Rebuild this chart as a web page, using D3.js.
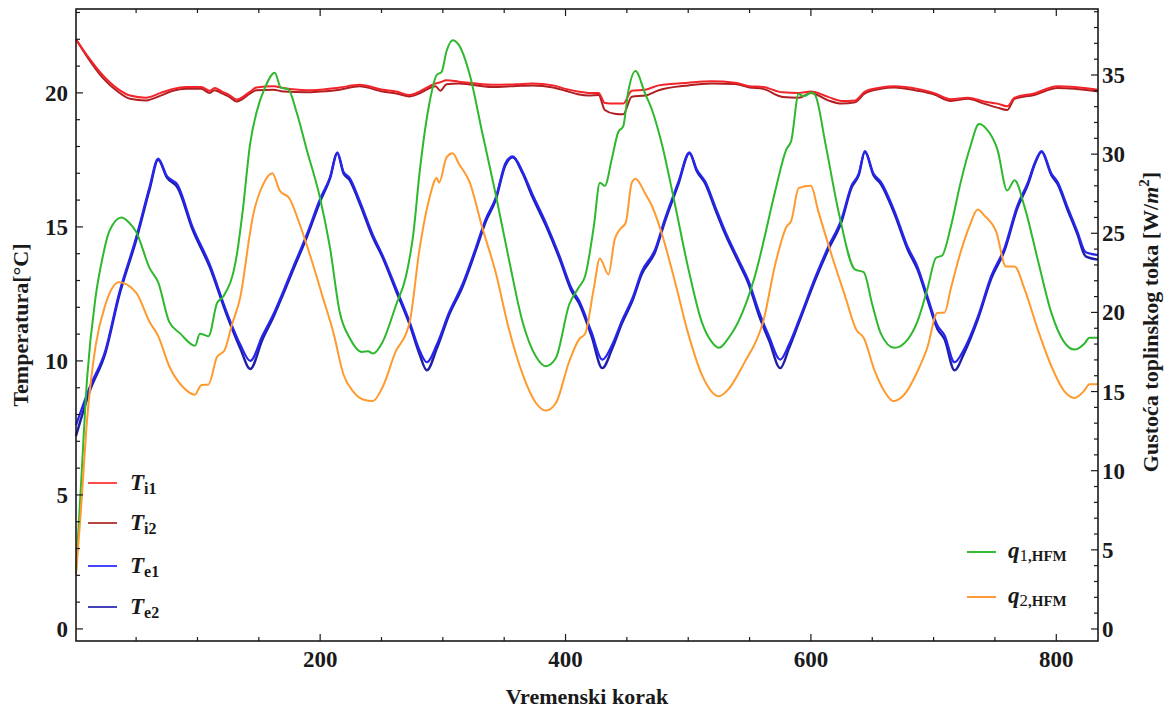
<!DOCTYPE html>
<html><head><meta charset="utf-8">
<script src="https://cdn.jsdelivr.net/npm/d3@7"></script>
<style>
body{margin:0;background:#fff}
svg{display:block}
</style>
</head><body><svg id="c" width="1169" height="713" font-family="'Liberation Serif', 'DejaVu Serif', serif" font-weight="bold"></svg>
<script>
// ---- data ----
const tiSteps = [1,10,23,35,45,58,70,80,91,103,110,114,120,126,132,143,148,162,170,189,200,216,232,251,262,273,281,285,294,298,303,313,340,360,373,390,400,410,419,427,432,440,447,454,465,476,500,519,538,550,561,577,590,600,614,625,636,644,657,668,687,700,714,728,741,752,760,766,782,801,815,834];
const ti1 = [22.0,21.4,20.65,20.15,19.9,19.82,20.0,20.15,20.22,20.22,20.08,20.18,20.05,19.92,19.75,20.05,20.2,20.25,20.18,20.1,20.12,20.2,20.3,20.12,20.05,19.92,20.05,20.15,20.35,20.4,20.47,20.42,20.3,20.32,20.35,20.28,20.15,20.05,20.0,20.0,19.62,19.6,19.6,20.08,20.12,20.28,20.38,20.43,20.38,20.25,20.22,20.02,20.0,20.05,19.85,19.7,19.72,20.05,20.2,20.25,20.15,20.0,19.76,19.82,19.68,19.6,19.5,19.82,19.98,20.25,20.22,20.12];
const ti2 = [22.0,21.35,20.55,20.05,19.78,19.72,19.9,20.08,20.15,20.15,20.0,20.1,19.98,19.85,19.68,19.98,20.1,20.12,20.05,20.02,20.05,20.12,20.25,20.05,19.98,19.87,19.98,20.08,20.25,20.08,20.32,20.35,20.22,20.26,20.28,20.2,20.08,19.95,19.9,19.92,19.36,19.22,19.2,19.86,19.9,20.1,20.28,20.35,20.33,20.2,20.15,19.85,19.82,20.0,19.72,19.6,19.65,19.98,20.15,20.2,20.08,19.95,19.7,19.78,19.6,19.45,19.36,19.78,19.92,20.18,20.15,20.05];

const teSteps = [1,12,25,36,50,61,68,75,84,96,110,124,135,143,153,162,170,178,189,200,208,214,219,224,232,243,251,262,273,281,287,295,305,316,327,335,343,351,357,365,373,384,395,405,411,421,430,438,446,455,462,473,481,492,501,507,514,522,530,541,549,558,566,575,582,590,604,614,625,633,639,644,651,657,668,679,687,695,703,709,717,725,736,747,758,768,777,783,788,796,801,809,817,824,834];
const te1 = [7.6,9.0,10.4,12.5,14.6,16.5,17.55,16.9,16.55,15.0,13.6,11.8,10.6,10.0,10.95,11.75,12.6,13.5,14.7,16.05,16.85,17.78,17.06,16.83,16.0,14.7,13.93,12.7,11.45,10.4,9.95,10.6,11.8,12.86,14.24,15.3,16.07,17.37,17.63,17.06,16.22,15.15,13.93,12.7,12.25,11.1,10.05,10.6,11.5,12.4,13.32,14.16,15.3,16.68,17.78,17.14,16.68,15.76,14.85,13.78,13.0,11.8,10.9,10.05,10.6,11.5,13.17,14.24,15.3,16.53,16.99,17.83,16.99,16.68,15.6,14.24,13.5,12.4,11.33,10.95,9.95,10.45,11.64,13.17,14.24,15.76,16.68,17.45,17.83,16.99,16.68,15.76,14.85,14.05,13.95];
const te2 = [7.2,8.85,10.3,12.4,14.5,16.4,17.5,16.85,16.45,14.9,13.5,11.7,10.45,9.7,10.8,11.65,12.5,13.4,14.6,15.95,16.8,17.75,17.0,16.75,15.9,14.6,13.85,12.6,11.35,10.25,9.65,10.45,11.7,12.76,14.14,15.2,16.0,17.3,17.6,17.0,16.12,15.05,13.83,12.6,12.15,10.95,9.73,10.45,11.4,12.3,13.22,14.06,15.2,16.6,17.75,17.08,16.6,15.66,14.75,13.68,12.9,11.65,10.75,9.73,10.45,11.4,13.07,14.14,15.2,16.45,16.93,17.8,16.93,16.6,15.5,14.14,13.4,12.3,11.2,10.8,9.65,10.3,11.54,13.07,14.14,15.66,16.6,17.4,17.8,16.93,16.6,15.66,14.75,13.9,13.78];

const q1Steps = [1,5,10,17,23,28,38,44,50,61,68,77,86,98,102,109,116,121,132,137,143,148,155,163,168,174,181,189,200,208,216,224,234,239,243,251,262,270,276,281,289,295,299,303,308,313,322,332,343,354,365,376,384,392,403,411,416,423,428,432,438,443,447,451,457,465,470,478,489,500,511,519,525,533,544,557,561,571,580,584,590,594,601,604,612,623,636,643,650,657,668,679,687,695,702,707,714,722,730,737,743,752,760,766,774,785,796,806,815,823,827,834];
const q1 = [3.6,9.0,15.8,21.0,23.6,25.1,26.0,25.7,25.1,22.8,21.9,19.4,18.66,17.9,18.66,18.5,20.6,21.0,23.6,26.5,30.7,32.6,34.2,35.15,34.2,34.1,32.6,30.3,27.2,24.1,20.0,18.4,17.5,17.55,17.4,18.15,20.5,22.3,25.0,28.8,33.2,35.0,35.2,36.5,37.2,36.9,35.0,31.4,27.5,23.3,19.4,17.2,16.6,17.1,20.5,21.6,22.3,25.4,28.2,28.0,29.8,31.4,31.75,33.9,35.25,33.8,32.9,30.8,26.9,22.8,19.4,18.15,17.76,18.4,19.96,23.06,24.35,27.7,30.3,30.85,33.8,33.65,33.9,33.65,30.6,26.2,22.7,22.55,20.5,18.66,17.76,18.3,19.46,21.5,23.45,23.6,25.4,28.2,30.5,31.9,31.6,30.3,27.7,28.35,26.7,23.3,19.97,18.17,17.65,18.04,18.4,18.4];

const q2Steps = [1,5,10,17,25,36,50,61,68,77,88,98,103,109,116,122,128,135,143,145,153,161,167,175,183,194,202,211,219,227,235,243,251,262,270,273,281,289,295,297,303,308,313,322,332,343,354,365,376,384,392,403,411,416,423,428,435,440,445,449,454,457,465,470,478,489,500,511,519,525,533,546,557,561,571,580,584,590,600,606,617,628,637,643,652,660,667,676,687,695,703,709,714,722,729,736,741,751,759,766,774,785,796,806,815,823,827,834];
const q2 = [3.4,7.5,13.2,17.9,20.5,21.9,21.25,19.4,18.5,16.6,15.3,14.8,15.4,15.45,17.2,17.6,19.2,21.0,25.1,26.0,28.0,28.8,27.7,27.2,25.65,23.06,21.0,18.66,16.08,15.0,14.5,14.4,15.3,17.6,18.66,19.4,24.0,27.2,28.5,28.2,29.8,30.05,29.4,28.2,25.4,22.55,18.9,16.1,14.26,13.8,14.26,16.9,18.3,18.66,21.5,23.4,22.4,24.6,25.3,25.65,28.2,28.45,27.5,26.8,25.1,22.0,18.66,16.08,15.0,14.7,15.17,16.86,18.5,19.4,23.06,25.4,25.8,27.85,28.0,26.4,23.6,21.0,18.9,18.4,16.3,15.0,14.4,14.8,16.3,17.8,19.97,20.0,21.5,23.8,25.4,26.5,26.15,25.1,22.9,22.9,21.5,18.9,16.6,15.08,14.6,15.08,15.46,15.46];

const xTickLabels = [200,400,600,800];
const leftTickLabels = [0,5,10,15,20];
const rightTickLabels = [0,5,10,15,20,25,30,35];

// ---- layout ----
const svg = d3.select("#c");
const L = 76, R = 1098, T = 9, B = 641;
const x = d3.scaleLinear().domain([1,834]).range([L,R]);
const yL = d3.scaleLinear().domain([-0.45,23.13]).range([B,T]);
const yR = d3.scaleLinear().domain([-0.76,39.17]).range([B,T]);

const colors = {ti1:"#f2242a", ti2:"#b01e22", te1:"#2626f0", te2:"#1e1ea6", q1:"#2eb82e", q2:"#ff9a2e"};
const ink = "#1a1a1a";

function drawLine(steps, vals, ys, color, w){
  const data = steps.map((s,i)=>[s, vals[i]]);
  svg.append("path").datum(data)
    .attr("fill","none").attr("stroke",color).attr("stroke-width",w)
    .attr("stroke-linejoin","round")
    .attr("d", d3.line().x(d=>x(d[0])).y(d=>ys(d[1])).curve(d3.curveMonotoneX));
}

drawLine(tiSteps, ti2, yL, colors.ti2, 2);
drawLine(tiSteps, ti1, yL, colors.ti1, 2);
drawLine(teSteps, te2, yL, colors.te2, 2.4);
drawLine(teSteps, te1, yL, colors.te1, 2.2);
drawLine(q1Steps, q1, yR, colors.q1, 2);
drawLine(q2Steps, q2, yR, colors.q2, 2);

// frame
svg.append("rect").attr("x",L).attr("y",T).attr("width",R-L).attr("height",B-T)
  .attr("fill","none").attr("stroke",ink).attr("stroke-width",1.6);

const fs = 23;
const gx = svg.append("g");
d3.range(50, 834, 50).forEach(v=>{
  const major = xTickLabels.includes(v);
  const len = major ? 7 : 4;
  gx.append("line").attr("x1",x(v)).attr("x2",x(v)).attr("y1",B).attr("y2",B-len).attr("stroke",ink).attr("stroke-width",1.2);
  gx.append("line").attr("x1",x(v)).attr("x2",x(v)).attr("y1",T).attr("y2",T+len).attr("stroke",ink).attr("stroke-width",1.2);
});
xTickLabels.forEach(v=>{
  gx.append("text").attr("x",x(v)).attr("y",B+26).attr("text-anchor","middle").attr("font-size",fs).attr("fill",ink).text(v);
});

const gl = svg.append("g");
d3.range(0,24,1).forEach(v=>{
  const major = leftTickLabels.includes(v);
  gl.append("line").attr("x1",L).attr("x2",L+(major?7:4)).attr("y1",yL(v)).attr("y2",yL(v)).attr("stroke",ink).attr("stroke-width",1.2);
});
leftTickLabels.forEach(v=>{
  gl.append("text").attr("x",L-8).attr("y",yL(v)).attr("dy","0.35em").attr("text-anchor","end").attr("font-size",fs).attr("fill",ink).text(v);
});

const gr = svg.append("g");
d3.range(0,40,1).forEach(v=>{
  const major = rightTickLabels.includes(v);
  gr.append("line").attr("x1",R).attr("x2",R-(major?7:4)).attr("y1",yR(v)).attr("y2",yR(v)).attr("stroke",ink).attr("stroke-width",1.2);
});
rightTickLabels.forEach(v=>{
  gr.append("text").attr("x",R+4).attr("y",yR(v)).attr("dy","0.35em").attr("text-anchor","start").attr("font-size",fs).attr("fill",ink).text(v);
});

// titles
svg.append("text").attr("x",(L+R)/2).attr("y",704).attr("text-anchor","middle").attr("font-size",22).attr("fill",ink).text("Vremenski korak");
svg.append("text").attr("transform","translate(28,325) rotate(-90)").attr("text-anchor","middle").attr("font-size",22).attr("fill",ink).text("Temperatura[°C]");
const rt = svg.append("text").attr("transform","translate(1158,322) rotate(-90)").attr("text-anchor","middle").attr("font-size",22).attr("fill",ink);
rt.append("tspan").text("Gustoća toplinskog toka [W/");
rt.append("tspan").attr("font-style","italic").text("m");
rt.append("tspan").attr("font-size",15).attr("dy",-9).text("2");
rt.append("tspan").attr("dy",9).text("]");

// legends
const legT = [
  {c:"#ff4a4a", s:"i1", y:483},
  {c:"#b84646", s:"i2", y:523},
  {c:"#4646ff", s:"e1", y:566},
  {c:"#4444b8", s:"e2", y:607}
];
legT.forEach(d=>{
  svg.append("line").attr("x1",88).attr("x2",117).attr("y1",d.y).attr("y2",d.y).attr("stroke",d.c).attr("stroke-width",2);
  const t = svg.append("text").attr("x",130).attr("y",d.y+7).attr("font-size",23).attr("fill",ink);
  t.append("tspan").attr("font-style","italic").text("T");
  t.append("tspan").attr("font-size",16).attr("dy",4).text(d.s);
});
const legQ = [
  {c:"#33bb33", s:"1,HFM", y:552},
  {c:"#ff9a3a", s:"2,HFM", y:597}
];
legQ.forEach(d=>{
  svg.append("line").attr("x1",967).attr("x2",996).attr("y1",d.y).attr("y2",d.y).attr("stroke",d.c).attr("stroke-width",2);
  const t = svg.append("text").attr("x",1008).attr("y",d.y+6).attr("font-size",23).attr("fill",ink);
  t.append("tspan").attr("font-style","italic").text("q");
  t.append("tspan").attr("font-size",17).attr("dy",3).attr("font-weight","normal").text(d.s.charAt(0));
  t.append("tspan").attr("font-size",15).text(d.s.slice(1));
});
</script>
</body></html>
